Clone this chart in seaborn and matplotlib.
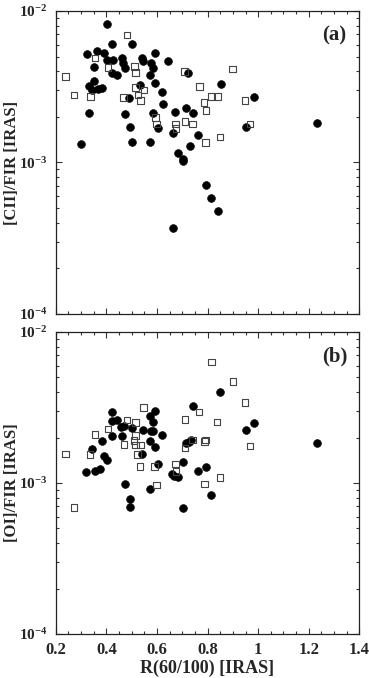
import matplotlib
matplotlib.use('Agg')
import pandas as pd
import matplotlib.pyplot as plt
import seaborn as sns
from matplotlib.ticker import MultipleLocator, LogLocator, NullFormatter, FuncFormatter

# panel (a): [CII]/FIR vs R(60/100)
cii_filled_x = [0.403, 0.322, 0.362, 0.392, 0.423, 0.502, 0.351, 0.401, 0.425, 0.462,
                0.465, 0.473, 0.423, 0.442, 0.542, 0.544, 0.575, 0.583, 0.591, 0.574,
                0.643, 0.722, 0.353, 0.333, 0.342, 0.368, 0.381, 0.532, 0.491, 0.593,
                0.621, 0.623, 0.332, 0.473, 0.583, 0.673, 0.714, 0.743, 0.852, 0.982,
                0.301, 0.494, 0.503, 0.573, 0.603, 0.663, 0.763, 0.732, 0.683, 0.701,
                0.702, 0.952, 1.233, 0.793, 0.813, 0.843, 0.663]
cii_filled_y = [8.17e-3, 5.17e-3, 5.45e-3, 5.30e-3, 6.08e-3, 6.08e-3, 4.27e-3, 4.72e-3, 4.72e-3, 4.92e-3,
                4.56e-3, 4.23e-3, 3.92e-3, 3.76e-3, 4.92e-3, 4.66e-3, 4.52e-3, 4.23e-3, 5.28e-3, 3.76e-3,
                4.68e-3, 3.92e-3, 3.45e-3, 3.20e-3, 3.01e-3, 3.06e-3, 3.12e-3, 3.25e-3, 2.65e-3, 3.35e-3,
                2.91e-3, 2.42e-3, 2.13e-3, 2.08e-3, 2.13e-3, 2.17e-3, 2.30e-3, 2.13e-3, 3.30e-3, 2.72e-3,
                1.33e-3, 1.71e-3, 1.36e-3, 1.36e-3, 1.70e-3, 1.57e-3, 1.53e-3, 1.28e-3, 1.16e-3, 1.02e-3,
                1.05e-3, 1.71e-3, 1.83e-3, 7.11e-4, 5.86e-4, 4.79e-4, 3.70e-4]
cii_open_x = [0.481, 0.355, 0.407, 0.512, 0.516, 0.708, 0.899, 0.238, 0.272, 0.338,
              0.467, 0.515, 0.525, 0.535, 0.549, 0.768, 0.786, 0.794, 0.815, 0.839,
              0.947, 0.594, 0.598, 0.674, 0.676, 0.711, 0.741, 0.967, 0.792, 0.850]
cii_open_y = [6.95e-3, 4.88e-3, 4.23e-3, 4.31e-3, 3.92e-3, 3.98e-3, 4.14e-3, 3.69e-3, 2.78e-3, 2.72e-3,
              2.68e-3, 3.12e-3, 2.79e-3, 2.56e-3, 3.01e-3, 3.17e-3, 2.48e-3, 2.21e-3, 2.72e-3, 2.72e-3,
              2.57e-3, 1.98e-3, 1.79e-3, 1.79e-3, 1.68e-3, 1.86e-3, 1.80e-3, 1.80e-3, 1.36e-3, 1.47e-3]

# panel (b): [OI]/FIR vs R(60/100)
oi_filled_x = [0.424, 0.423, 0.442, 0.458, 0.471, 0.503, 0.544, 0.573, 0.591, 0.583,
               0.577, 0.585, 0.423, 0.462, 0.383, 0.574, 0.621, 0.593, 0.344, 0.392,
               0.403, 0.542, 0.603, 0.321, 0.355, 0.374, 0.475, 0.573, 0.494, 0.494,
               0.741, 0.851, 0.714, 0.726, 0.734, 0.702, 0.660, 0.669, 0.685, 0.763,
               0.794, 0.813, 0.702, 0.952, 0.982, 1.234]
oi_filled_y = [2.96e-3, 2.58e-3, 2.61e-3, 2.34e-3, 2.37e-3, 2.32e-3, 2.24e-3, 2.77e-3, 3.02e-3, 2.53e-3,
               2.22e-3, 2.22e-3, 2.05e-3, 2.06e-3, 1.90e-3, 1.90e-3, 2.07e-3, 1.72e-3, 1.67e-3, 1.50e-3,
               1.43e-3, 1.55e-3, 1.33e-3, 1.19e-3, 1.21e-3, 1.24e-3, 9.8e-4, 9.1e-4, 7.88e-4, 6.91e-4,
               3.26e-3, 3.99e-3, 1.85e-3, 1.88e-3, 1.92e-3, 1.38e-3, 1.15e-3, 1.11e-3, 1.09e-3, 1.20e-3,
               1.28e-3, 8.38e-4, 6.84e-4, 2.23e-3, 2.51e-3, 1.83e-3]
oi_open_x = [0.816, 0.901, 0.947, 0.767, 0.837, 0.711, 0.547, 0.481, 0.515, 0.407,
             0.355, 0.515, 0.510, 0.470, 0.516, 0.536, 0.523, 0.533, 0.590, 0.336,
             0.238, 0.711, 0.741, 0.788, 0.792, 0.967, 0.674, 0.676, 0.598, 0.788,
             0.850, 0.272]
oi_open_y = [6.34e-3, 4.72e-3, 3.41e-3, 2.96e-3, 2.54e-3, 2.64e-3, 3.16e-3, 2.62e-3, 2.52e-3, 2.28e-3,
             2.10e-3, 2.07e-3, 1.91e-3, 1.80e-3, 1.78e-3, 1.78e-3, 1.54e-3, 1.29e-3, 1.29e-3, 1.55e-3,
             1.56e-3, 1.70e-3, 1.92e-3, 1.88e-3, 1.92e-3, 1.76e-3, 1.34e-3, 1.19e-3, 9.7e-4, 9.85e-4,
             1.09e-3, 6.87e-4]

y_ticks = [1e-4, 1e-3, 1e-2]
y_ticklabels = ['10$^{-4}$', '10$^{-3}$', '10$^{-2}$']

sns.set_style('ticks')
plt.rcParams['font.family'] = ['Liberation Serif', 'DejaVu Serif']
plt.rcParams['font.weight'] = 'bold'
plt.rcParams['mathtext.fontset'] = 'custom'
plt.rcParams['mathtext.rm'] = 'Liberation Serif:bold'
plt.rcParams['mathtext.it'] = 'Liberation Serif:bold'
plt.rcParams['mathtext.bf'] = 'Liberation Serif:bold'

fig = plt.figure(figsize=(3.69, 6.78), dpi=100)
ax_a = fig.add_axes([0.151, 0.5369, 0.823, 0.4469])
ax_b = fig.add_axes([0.151, 0.0649, 0.823, 0.4454])


def draw_panel(ax, fx, fy, ox, oy, ylabel, tag):
    filled = pd.DataFrame({'x': fx, 'y': fy})
    opened = pd.DataFrame({'x': ox, 'y': oy})
    sns.scatterplot(data=filled, x='x', y='y', ax=ax, marker='o', s=32,
                    color='black', edgecolor='black', linewidth=0.4, zorder=3)
    sns.scatterplot(data=opened, x='x', y='y', ax=ax, marker='s', s=22,
                    facecolor='none', edgecolor='#444444', linewidth=0.8, zorder=4)
    ax.set_yscale('log')
    ax.set_xlim(0.2, 1.4)
    ax.set_ylim(1e-4, 1e-2)
    ax.xaxis.set_major_locator(MultipleLocator(0.2))
    ax.xaxis.set_minor_locator(MultipleLocator(0.05))
    ax.xaxis.set_major_formatter(FuncFormatter(lambda v, p: f'{v:g}'))
    ax.set_yticks(y_ticks)
    ax.set_yticklabels(y_ticklabels)
    ax.yaxis.set_minor_locator(LogLocator(base=10, subs=range(2, 10)))
    ax.yaxis.set_minor_formatter(NullFormatter())
    ax.tick_params(which='both', direction='in', top=True, right=True,
                   width=0.8, color='#333333')
    ax.tick_params(which='major', length=4)
    ax.tick_params(which='minor', length=2.5)
    ax.tick_params(axis='x', pad=6, labelsize=12)
    ax.tick_params(axis='y', pad=6, labelsize=11)
    for sp in ax.spines.values():
        sp.set_linewidth(0.9)
        sp.set_color('#222222')
    ax.set_ylabel(ylabel, fontsize=12, fontweight='bold')
    ax.yaxis.set_label_coords(-0.118, 0.5)
    ax.text(0.918, 0.919, tag, transform=ax.transAxes, fontsize=15,
            fontweight='bold', ha='center', va='center')


draw_panel(ax_a, cii_filled_x, cii_filled_y, cii_open_x, cii_open_y, '[CII]/FIR [IRAS]', '(a)')
draw_panel(ax_b, oi_filled_x, oi_filled_y, oi_open_x, oi_open_y, '[OI]/FIR [IRAS]', '(b)')

ax_a.tick_params(axis='x', labelbottom=False)
ax_a.set_xlabel('')
ax_b.set_xlabel('R(60/100) [IRAS]', fontsize=13, fontweight='bold', labelpad=1)

fig.savefig('out.png', dpi=100)
